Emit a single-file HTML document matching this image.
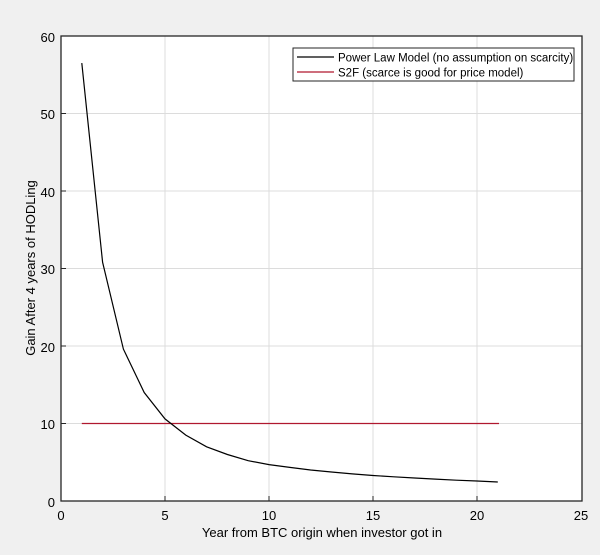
<!DOCTYPE html>
<html><head><style>
html,body{margin:0;padding:0;background:#f0f0f0;}
svg{display:block;font-family:"Liberation Sans",Arial,sans-serif;}
</style></head><body>
<svg width="600" height="555" viewBox="0 0 600 555" xmlns="http://www.w3.org/2000/svg">
<rect x="0" y="0" width="600" height="555" fill="#f0f0f0"/>
<rect x="61" y="36" width="521" height="465" fill="#fff"/>
<g stroke="#dcdcdc" stroke-width="1">
<line x1="165" y1="36" x2="165" y2="501"/>
<line x1="269" y1="36" x2="269" y2="501"/>
<line x1="373" y1="36" x2="373" y2="501"/>
<line x1="477" y1="36" x2="477" y2="501"/>
<line x1="61" y1="113.5" x2="582" y2="113.5"/>
<line x1="61" y1="191" x2="582" y2="191"/>
<line x1="61" y1="268.5" x2="582" y2="268.5"/>
<line x1="61" y1="346" x2="582" y2="346"/>
<line x1="61" y1="423.5" x2="582" y2="423.5"/>
</g>
<line x1="81.8" y1="423.5" x2="499" y2="423.5" stroke="#b0182f" stroke-width="1.2"/>
<polyline fill="none" stroke="#000" stroke-width="1.2" points="81.8,63.1 102.6,262.3 123.4,349.1 144.2,392.5 165,418.9 185.8,435.1 206.6,446.8 227.4,454.5 248.2,460.7 269,464.6 289.8,467.4 310.6,470.0 331.4,472.0 352.2,473.9 373,475.5 393.8,476.8 414.6,478.0 435.4,479.1 456.2,480.2 477,481.0 497.8,482.0"/>
<rect x="61" y="36" width="521" height="465" fill="none" stroke="#262626" stroke-width="1.3"/>
<g stroke="#262626" stroke-width="1">
<line x1="165" y1="501" x2="165" y2="496"/><line x1="269" y1="501" x2="269" y2="496"/><line x1="373" y1="501" x2="373" y2="496"/><line x1="477" y1="501" x2="477" y2="496"/>
<line x1="61" y1="113.5" x2="66" y2="113.5"/><line x1="61" y1="191" x2="66" y2="191"/><line x1="61" y1="268.5" x2="66" y2="268.5"/><line x1="61" y1="346" x2="66" y2="346"/><line x1="61" y1="423.5" x2="66" y2="423.5"/>
</g>
<g font-size="13" fill="#000" text-anchor="end">
<text x="55" y="42">60</text><text x="55" y="119">50</text><text x="55" y="197">40</text><text x="55" y="274">30</text><text x="55" y="352">20</text><text x="55" y="429">10</text><text x="55" y="507">0</text>
</g>
<g font-size="13" fill="#000" text-anchor="middle">
<text x="61" y="520">0</text><text x="165" y="520">5</text><text x="269" y="520">10</text><text x="373" y="520">15</text><text x="477" y="520">20</text><text x="581" y="520">25</text>
</g>
<text x="322" y="537" font-size="13" text-anchor="middle">Year from BTC origin when investor got in</text>
<text transform="translate(35,268) rotate(-90)" font-size="13" text-anchor="middle">Gain After 4 years of HODLing</text>
<rect x="293" y="48" width="281" height="33" fill="#fff" stroke="#262626" stroke-width="1"/>
<line x1="297" y1="57" x2="334" y2="57" stroke="#000" stroke-width="1.2"/>
<line x1="297" y1="72" x2="334" y2="72" stroke="#b0182f" stroke-width="1.2"/>
<text x="338" y="61.5" font-size="11.5">Power Law Model (no assumption on scarcity)</text>
<text x="338" y="76.5" font-size="11.5">S2F (scarce is good for price model)</text>
</svg>
</body></html>
